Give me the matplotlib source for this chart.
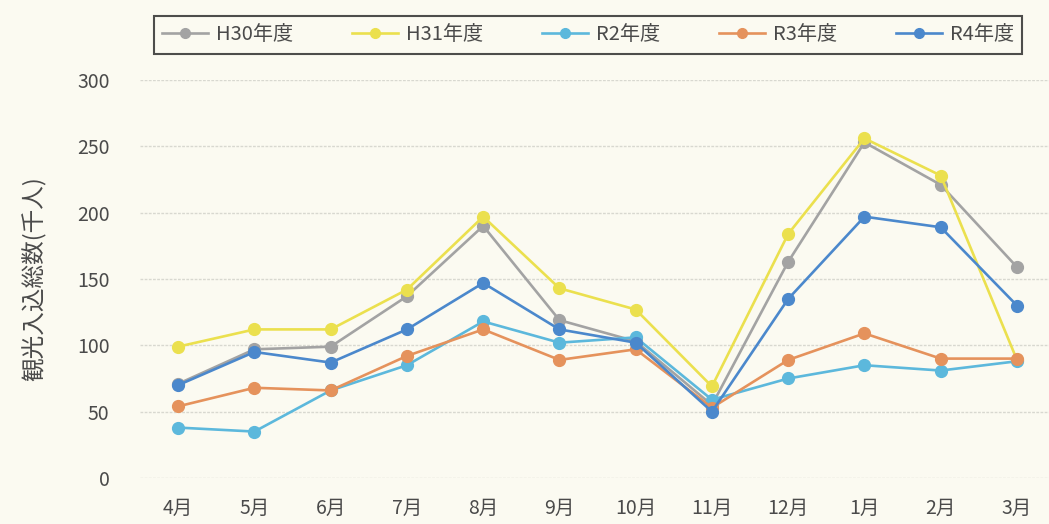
import matplotlib
matplotlib.use('Agg')
import matplotlib.pyplot as plt

plt.rcParams['font.family'] = ['Noto Sans CJK JP', 'DejaVu Sans']

months = ['4月', '5月', '6月', '7月', '8月', '9月', '10月', '11月', '12月', '1月', '2月', '3月']
h30 = [71, 97, 99, 137, 190, 119, 103, 55, 163, 253, 221, 159]
h31 = [99, 112, 112, 142, 197, 143, 127, 69, 184, 256, 228, 89]
r2 = [38, 35, 66, 85, 118, 102, 106, 59, 75, 85, 81, 88]
r3 = [54, 68, 66, 92, 112, 89, 97, 53, 89, 109, 90, 90]
r4 = [70, 95, 87, 112, 147, 112, 102, 50, 135, 197, 189, 130]

series = [('H30年度', h30, '#a3a3a3'),
          ('H31年度', h31, '#ebe04e'),
          ('R2年度', r2, '#5cb8dc'),
          ('R3年度', r3, '#e5925c'),
          ('R4年度', r4, '#4b88cc')]

BG = '#fbfaf1'
TXT = '#4a4a4a'

fig = plt.figure(figsize=(10.49, 5.24), dpi=100)
fig.set_facecolor(BG)
ax = fig.add_axes([0.1335, 0.0878, 0.8665, 0.7595])
ax.set_facecolor(BG)

x = list(range(len(months)))
for name, vals, col in series:
    ax.plot(x, vals, color=col, lw=1.9, marker='o', markersize=8.5,
            markeredgecolor=col, label=name)

ax.set_xlim(-0.5, 11.42)
ax.set_ylim(0, 300)
ax.set_yticks(range(0, 301, 50))
ax.set_xticks(x)
ax.set_xticklabels(months)
ax.tick_params(axis='both', length=0, labelsize=14, colors=TXT)
ax.tick_params(axis='x', pad=14)
ax.tick_params(axis='y', pad=22)
ax.yaxis.grid(True, color='#d8d8d0', lw=1.0, ls=(0, (2, 1)))
ax.set_axisbelow(True)
for s in ax.spines.values():
    s.set_visible(False)

ax.set_ylabel('観光入込総数(千人)', fontsize=17, color=TXT, labelpad=22)

leg = fig.legend(loc='center', bbox_to_anchor=(588 / 1049, 1 - 35 / 524),
                 ncol=5, fontsize=14.5, frameon=True, fancybox=False,
                 handlelength=2.3, handletextpad=0.4, columnspacing=2.9,
                 borderpad=0.4, labelcolor=TXT)
leg.get_frame().set_edgecolor('#222222')
leg.get_frame().set_linewidth(1.5)
leg.get_frame().set_facecolor(BG)
for h in leg.legend_handles:
    h.set_markersize(7)

fig.savefig('out.png', dpi=100, facecolor=BG)
